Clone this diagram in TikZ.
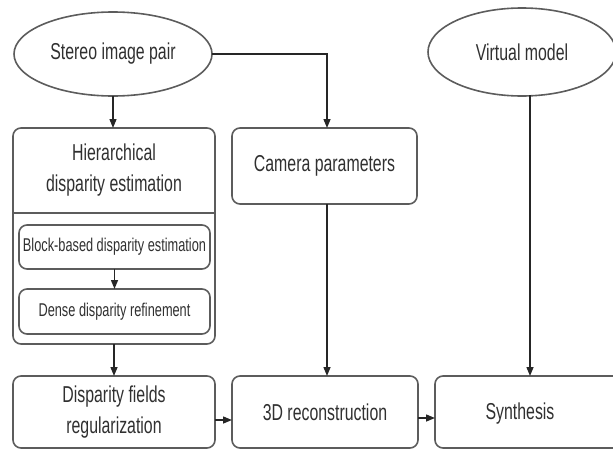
\documentclass[tikz,border=0pt]{standalone}
\usepackage{fontspec}
\setmainfont{Liberation Sans}[FakeStretch=0.69]
\usetikzlibrary{shapes.geometric,arrows.meta}
\definecolor{edge}{HTML}{5C5C5C}
\definecolor{ink}{HTML}{303030}
\begin{document}
\begin{tikzpicture}[x=1pt,y=-1pt,
  every node/.style={text=ink,inner sep=0pt,outer sep=0pt},
  big/.style={font=\fontsize{23}{31}\selectfont,align=center},
  small/.style={font=\fontsize{18.5}{24}\selectfont,align=center},
  box/.style={draw=edge,line width=1.6pt,rounded corners=8pt,rectangle},
  oval/.style={draw=edge,line width=1.6pt,ellipse},
  link/.style={draw=black!85,line width=1.4pt,-{Triangle[length=9pt,width=7pt]}},
  wire/.style={draw=black!85,line width=1.4pt}
]
\useasboundingbox (0,0) rectangle (613,450);

% input ellipses
\node[oval,big,minimum width=198pt,minimum height=84pt] (stereo) at (113,54) {Stereo image pair};
\node[oval,big,minimum width=188pt,minimum height=88pt] (vm) at (522,52) {Virtual model};

% hierarchical estimation block with its two stages
\node[box,minimum width=202pt,minimum height=216pt] (hier) at (114,236) {};
\draw[edge,line width=1.6pt] (hier.west |- 0,213) -- (hier.east |- 0,213);
\node[big] (hiertitle) at (114,170) {Hierarchical\\disparity estimation};
\node[box,small,minimum width=191pt,minimum height=44pt] (block) at (114.5,247) {Block-based disparity estimation};
\node[box,small,minimum width=191pt,minimum height=45pt] (dense) at (114.5,311.5) {Dense disparity refinement};

\node[box,big,minimum width=185pt,minimum height=76pt] (cam) at (324.5,166) {Camera parameters};

% bottom row
\node[box,big,minimum width=202pt,minimum height=72pt] (disp) at (114,412) {Disparity fields\\regularization};
\node[box,big,minimum width=186pt,minimum height=72pt] (rec) at (325,412) {3D reconstruction};
\node[box,big,minimum width=190pt,minimum height=72pt] (syn) at (530,412) {};
\node[big] (syntext) at (520,414) {Synthesis};

% connectors
\coordinate (camx) at (327,0);
\coordinate (vmx) at (530,0);
\draw[link] (stereo.south) -- (hier.north -| stereo.south);
\draw[link] (stereo.east) -| (cam.north -| camx);
\draw[link] (block.south) -- (dense.north);
\draw[link] (hier.south) -- (disp.north);
\draw[link] (cam.south -| camx) -- (rec.north -| camx);
\draw[link] (vm.south -| vmx) ++(0,-1) -- (syn.north -| vmx);
\draw[link] (disp.east |- 0,420) -- (rec.west |- 0,420);
\draw[link] (rec.east |- 0,418) -- (syn.west |- 0,418);
\end{tikzpicture}
\end{document}
